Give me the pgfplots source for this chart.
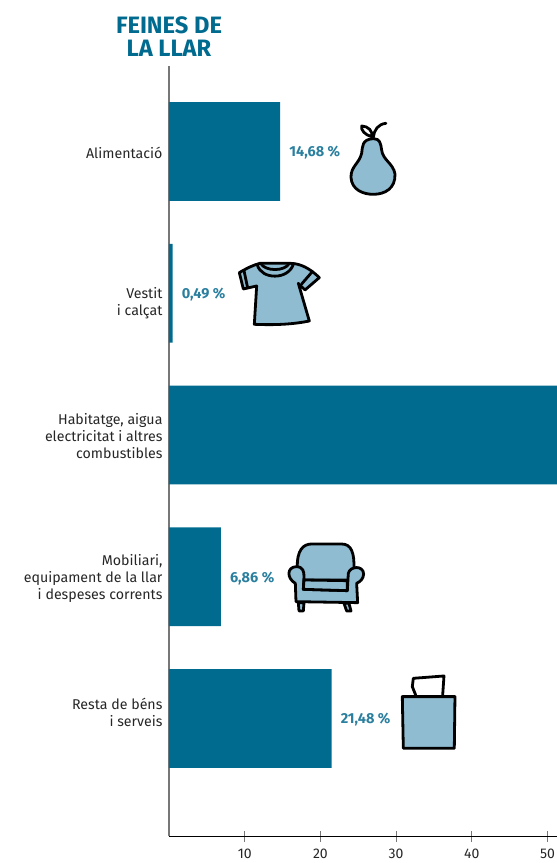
\documentclass[border=0pt]{standalone}
\usepackage{pgfplots}
\pgfplotsset{compat=1.18}
\usepackage{fontspec}
\setmainfont{Fira Sans}
\definecolor{bar}{HTML}{006B8F}
\definecolor{lab}{HTML}{2A7F9F}
\definecolor{ico}{HTML}{8FBCD1}
\definecolor{axg}{HTML}{777777}
\tikzset{lbl/.style={anchor=west,inner sep=0pt,text=lab,font=\fontsize{14.5}{16}\selectfont\bfseries,xshift=9pt,yshift=-1.5pt}}
\begin{document}
\begin{tikzpicture}[x=1pt,y=1pt]
\useasboundingbox (0,0) rectangle (557,863);
\begin{axis}[
  at={(169pt,27pt)}, anchor=south west,
  scale only axis, width=388pt, height=770pt,
  xmin=0, xmax=51.25, ymin=-0.603, ymax=4.829, y dir=reverse,
  axis y line*=left, axis x line*=bottom,
  x axis line style={black,line width=0.9pt},
  y axis line style={axg,line width=1.2pt},
  xtick={10,20,30,40,50}, tick align=center,
  major tick length=11pt,
  x tick style={axg,line width=0.9pt},
  ytick={0.01,1.07,2.005,3.015,3.955},
  y tick style={draw=none},
  yticklabels={{Alimentació},{Vestit\\i calçat},{Habitatge, aigua\\electricitat i altres\\combustibles},{Mobiliari,\\equipament de la llar\\i despeses corrents},{Resta de béns\\i serveis}},
  yticklabel style={align=right,font=\fontsize{14.2}{17}\selectfont,text=black!85,xshift=8pt},
  xticklabel style={font=\fontsize{14}{16}\selectfont,text=black!85,yshift=-4pt},
  /pgf/number format/assume math mode=true,
  xbar, bar width=0.698,
]
\addplot[fill=bar,draw=none] coordinates {(14.68,0) (0.49,1) (56.49,2) (6.86,3) (21.48,4)};
\node[lbl] at (axis cs:14.68,0) {14,68\hspace{3.5pt}\%};
\node[lbl] at (axis cs:0.49,1) {0,49\hspace{3.5pt}\%};
\node[lbl] at (axis cs:6.86,3) {6,86\hspace{3.5pt}\%};
\node[lbl] at (axis cs:21.48,4) {21,48\hspace{3.5pt}\%};
\end{axis}
\node[align=center,text=bar,font=\fontsize{23.7}{23}\selectfont\bfseries] at (169,826.5) {FEINES DE\\LA LLAR};
% pear
\begin{scope}[shift={(230,763)},x=0.3333pt,y=-0.3333pt,line width=2.8pt,line join=round,line cap=round]
\draw[fill=ico] (430,116) .. controls (395,118) and (398,140) .. (395,160) .. controls (388,190) and (362,200) .. (363,232) .. controls (365,270) and (400,283) .. (430,283) .. controls (465,283) and (497,265) .. (495,222) .. controls (490,190) and (458,180) .. (455,150) .. controls (452,130) and (450,116) .. (430,116) -- cycle;
\draw (430,112) .. controls (432,90) and (445,72) .. (468,70);
\draw (425,110) .. controls (405,105) and (392,90) .. (395,78) .. controls (415,78) and (430,95) .. (425,110) -- cycle;
\end{scope}
% shirt
\begin{scope}[shift={(230,763)},x=0.3333pt,y=-0.3333pt,line width=2.8pt,line join=round,line cap=round]
\draw[fill=ico] (90,490) -- (180,490) .. controls (210,490) and (240,505) .. (268,533) -- (225,570) -- (205,550) -- (238,663) .. controls (180,675) and (120,675) .. (73,673) -- (80,558) -- (40,567) -- (28,518) .. controls (50,505) and (70,495) .. (90,490) -- cycle;
\draw (82,495) .. controls (95,540) and (175,540) .. (190,493);
\draw (92,490) .. controls (105,515) and (165,515) .. (178,490);
\draw (42,512) -- (53,564);
\draw (247,515) -- (215,552);
\end{scope}
% chair
\begin{scope}[shift={(220,333)},x=0.3333pt,y=-0.3333pt,line width=2.8pt,line join=round,line cap=round]
\draw[fill=ico] (235,218) -- (237,243) -- (250,243) -- (252,218) -- cycle;
\draw[fill=ico] (372,220) -- (380,243) -- (393,243) -- (387,220) -- cycle;
\draw[fill=ico] (232,115) .. controls (230,60) and (250,42) .. (275,42) -- (365,42) .. controls (395,42) and (403,70) .. (402,115) -- (402,150) -- (232,150) -- cycle;
\draw[fill=ico] (226,160) .. controls (200,145) and (200,112) .. (228,110) .. controls (250,110) and (252,125) .. (252,140) -- (250,178) -- (382,182) -- (385,130) .. controls (390,108) and (430,105) .. (431,132) .. controls (430,148) and (420,155) .. (410,160) -- (413,218) -- (228,215) -- cycle;
\draw[fill=ico] (252,150) -- (382,152) -- (382,182) -- (250,178) -- cycle;
\end{scope}
% box
\begin{scope}[shift={(220,333)},x=0.3333pt,y=-0.3333pt,line width=2.8pt,line join=round,line cap=round]
\draw[fill=white] (587,495) -- (577,470) -- (580,445) -- (672,438) -- (668,497);
\draw[fill=ico] (547,500) -- (705,500) -- (703,655) -- (550,655) -- cycle;
\end{scope}
\end{tikzpicture}
\end{document}
